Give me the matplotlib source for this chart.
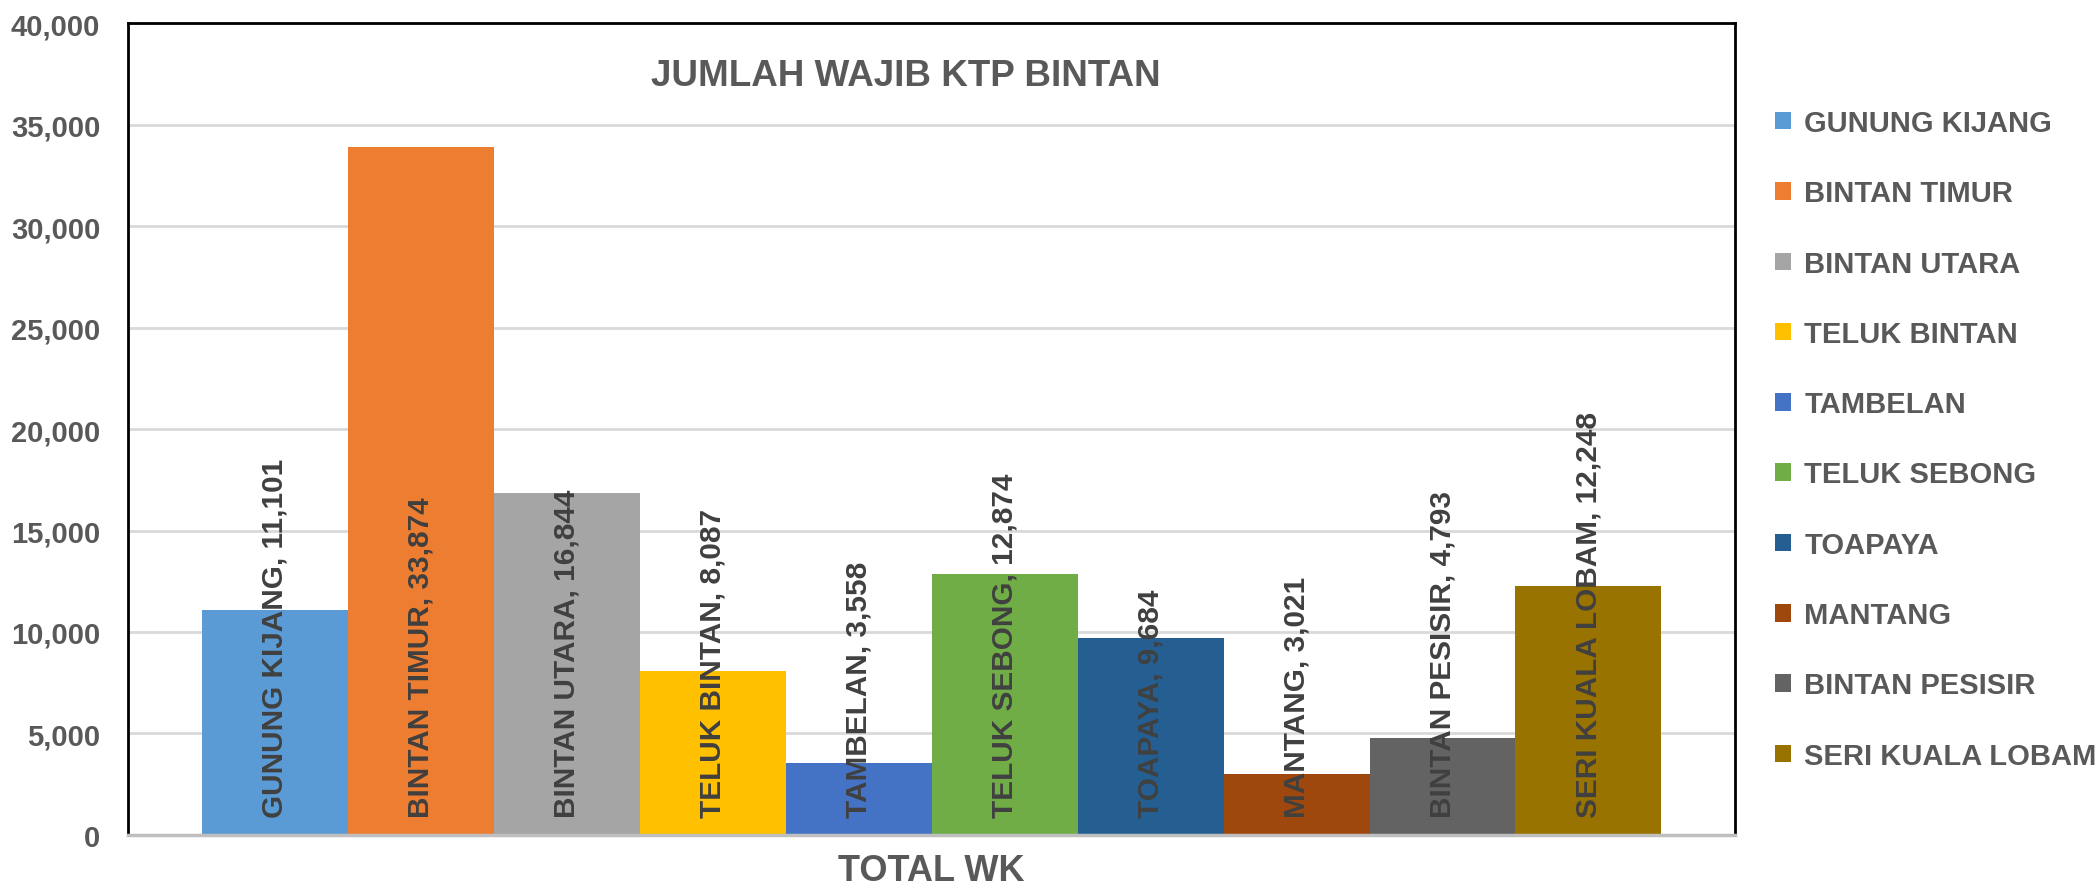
import numpy as np
import matplotlib
matplotlib.use('agg')
import matplotlib.pyplot as plt
from matplotlib.patches import Patch

########################## data ####################################
kecamatan = ['GUNUNG KIJANG', 'BINTAN TIMUR', 'BINTAN UTARA', 'TELUK BINTAN',
             'TAMBELAN', 'TELUK SEBONG', 'TOAPAYA', 'MANTANG',
             'BINTAN PESISIR', 'SERI KUALA LOBAM']
wajib_ktp = [11101, 33874, 16844, 8087, 3558, 12874, 9684, 3021, 4793, 12248]
warna = ['#5B9BD5', '#ED7D31', '#A5A5A5', '#FFC000', '#4472C4',
         '#70AD47', '#255E91', '#9E480E', '#636363', '#997300']
yticks = [0, 5000, 10000, 15000, 20000, 25000, 30000, 35000, 40000]

grey = '#595959'
narrow = ['Liberation Sans Narrow', 'Liberation Sans', 'DejaVu Sans']
wide = ['Liberation Sans', 'DejaVu Sans']

fig = plt.figure(figsize=(20.97, 8.95), dpi=100)
ax = fig.add_axes([0.0611, 0.066, 0.7663, 0.907])

########################## bars ####################################
n = len(wajib_ktp)
start = 0.0458
width = (1 - 2 * start) / n
xpos = start + width * (np.arange(n) + 0.5)
ax.bar(xpos, wajib_ktp, width=width, color=warna, zorder=2)

for x, nama, v in zip(xpos, kecamatan, wajib_ktp):
    ax.text(x, 900, '%s, %s' % (nama, format(v, ',')), rotation=90,
            ha='center', va='bottom', fontsize=21.4, fontweight='bold',
            color='#404040', family=wide, zorder=3)

########################## axes ####################################
ax.set_xlim(0, 1)
ax.set_ylim(0, 40000)
ax.set_yticks(yticks)
ax.set_yticklabels([format(t, ',') for t in yticks], fontsize=21,
                   fontweight='bold', color=grey, family=narrow)
ax.set_xticks([])
ax.tick_params(axis='y', length=0, pad=20)
ax.grid(axis='y', color='#D9D9D9', linewidth=2, zorder=0)
for s in ['left', 'top', 'right']:
    ax.spines[s].set_color('black')
    ax.spines[s].set_linewidth(2)
ax.spines['bottom'].set_color('#BFBFBF')
ax.spines['bottom'].set_linewidth(2.5)
ax.spines['bottom'].set_zorder(4)

ax.set_xlabel('TOTAL WK', fontsize=26, fontweight='bold', color=grey,
              family=narrow, labelpad=13)
ax.text(0.484, 0.935, 'JUMLAH WAJIB KTP BINTAN', transform=ax.transAxes,
        ha='center', va='center', fontsize=26.5, fontweight='bold',
        color=grey, family=wide)

########################## legend ####################################
handles = [Patch(facecolor=c, edgecolor='none') for c in warna]
fig.legend(handles, kecamatan, loc='center left',
           bbox_to_anchor=(0.834, 0.508), frameon=False,
           prop={'family': wide, 'weight': 'bold', 'size': 21},
           labelcolor=grey, handlelength=0.55, handleheight=0.55,
           handletextpad=0.45, labelspacing=1.45)

plt.savefig('out.png', dpi=100)
